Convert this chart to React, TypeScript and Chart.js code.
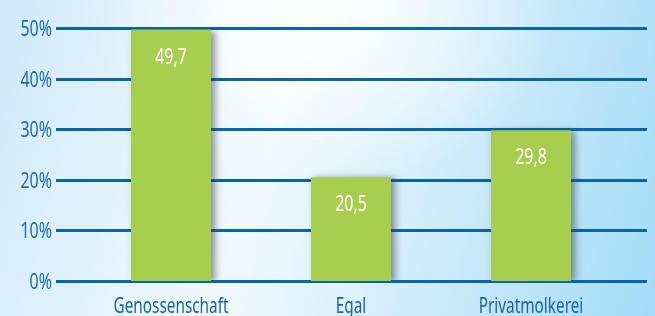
import React, { useEffect, useRef } from "react";
import { Chart, registerables } from "chart.js";

Chart.register(...registerables);

const categories = ["Genossenschaft", "Egal", "Privatmolkerei"];
const values = [49.7, 20.5, 29.8];
const valueLabels = ["49,7", "20,5", "29,8"];
const yTicks = [0, 10, 20, 30, 40, 50];
const yTickLabels = ["0%", "10%", "20%", "30%", "40%", "50%"];

const FONT = "'Noto Sans', 'DejaVu Sans', sans-serif";

function drawText(ctx: any, text: string, x: number, y: number, align: string, squeeze: number) {
  ctx.save();
  ctx.translate(x, y);
  ctx.scale(squeeze, 1);
  ctx.textAlign = align;
  ctx.textBaseline = "alphabetic";
  ctx.fillText(text, 0, 0);
  ctx.restore();
}

const gridPlugin = {
  id: "customGrid",
  beforeDatasetsDraw(chart: any) {
    const { ctx, scales } = chart;
    const y = scales.y;
    ctx.save();
    ctx.fillStyle = "#0765b0";
    yTicks.forEach((v) => {
      const py = Math.round(y.getPixelForValue(v));
      ctx.fillRect(56, py - 1, 591, 3);
    });
    ctx.fillStyle = "#1a6cb4";
    ctx.font = `21px ${FONT}`;
    yTicks.forEach((v, i) => {
      const py = y.getPixelForValue(v);
      drawText(ctx, yTickLabels[i], 52, py + 8, "right", 0.76);
    });
    const x = scales.x;
    ctx.fillStyle = "#1565ad";
    categories.forEach((c, i) => {
      drawText(ctx, c, x.getPixelForValue(i), 313, "center", 0.73);
    });
    ctx.restore();
    ctx.save();
    ctx.shadowColor = "rgba(50,60,70,0.55)";
    ctx.shadowBlur = 7;
    ctx.shadowOffsetX = 4;
    ctx.shadowOffsetY = 1;
  },
  afterDatasetsDraw(chart: any) {
    const { ctx } = chart;
    ctx.restore();
    const meta = chart.getDatasetMeta(0);
    ctx.save();
    ctx.fillStyle = "#ffffff";
    ctx.font = `21px ${FONT}`;
    meta.data.forEach((bar: any, i: number) => {
      drawText(ctx, valueLabels[i], bar.x, bar.y + 34, "center", 0.76);
    });
    ctx.restore();
  },
};

export default function App() {
  const ref = useRef<HTMLCanvasElement>(null);
  useEffect(() => {
    document.body.style.margin = "0";
    const chart = new Chart(ref.current!, {
      type: "bar",
      data: {
        labels: categories,
        datasets: [
          {
            data: values,
            backgroundColor: "#a7ce4c",
            borderWidth: 0,
            categoryPercentage: 1,
            barPercentage: 80 / 180,
          },
        ],
      },
      options: {
        animation: false,
        responsive: false,
        maintainAspectRatio: false,
        layout: { padding: { top: 28, right: 34, left: 81, bottom: 35 } },
        plugins: { legend: { display: false }, tooltip: { enabled: false } },
        scales: {
          x: { display: false },
          y: { display: false, min: 0, max: 50 },
        },
      },
      plugins: [gridPlugin],
    });
    return () => chart.destroy();
  }, []);
  return (
    <div
      style={{
        position: "absolute",
        left: 0,
        top: 0,
        width: 655,
        height: 316,
        background:
          "radial-gradient(ellipse 240px 190px at 320px 0px, rgba(255,255,255,0.95), rgba(255,255,255,0) 100%), linear-gradient(105deg, #d0eaf9 0%, #eaf6fd 30%, #f0f9fe 42%, #d9f0fb 60%, #c2e6f9 78%, #a3dcf7 100%)",
      }}
    >
      <canvas ref={ref} width={655} height={316} />
    </div>
  );
}
